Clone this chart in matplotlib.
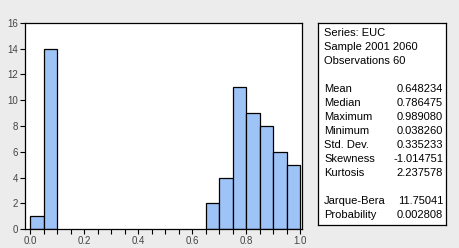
import matplotlib.pyplot as plt
import numpy as np
from matplotlib.ticker import MultipleLocator

# histogram bins (width 0.05) and counts
bin_edges = np.round(np.arange(0.0, 1.0001, 0.05), 2)
counts = [1, 14, 0, 0, 0, 0, 0, 0, 0, 0, 0, 0, 0, 2, 4, 11, 9, 8, 6, 5]

header = ['Series: EUC', 'Sample 2001 2060', 'Observations 60']
stat_names = ['Mean', 'Median', 'Maximum', 'Minimum', 'Std. Dev.',
              'Skewness', 'Kurtosis']
stat_values = ['0.648234', '0.786475', '0.989080', '0.038260', '0.335233',
               '-1.014751', '2.237578']
test_names = ['Jarque-Bera', 'Probability']
test_values = ['11.75041', '0.002808']

plt.rcParams['font.family'] = ['Liberation Sans', 'DejaVu Sans']
bg = '#ececec'

fig = plt.figure(figsize=(4.59, 2.48), dpi=100, facecolor=bg)
W, H = 459, 248
ax = fig.add_axes([25 / W, 1 - 229 / H, (302 - 25) / W, (229 - 23) / H])
ax.set_facecolor('white')

left = bin_edges[:-1]
for x0, c in zip(left, counts):
    if c > 0:
        ax.bar(x0, c, width=0.05, align='edge', color='#9ec3f7',
               edgecolor='black', linewidth=0.9)

ax.set_xlim(-0.019, 1.006)
ax.set_ylim(0, 16)
ax.xaxis.set_minor_locator(MultipleLocator(0.05))
ax.yaxis.set_major_locator(MultipleLocator(2))
ax.set_xticks(np.arange(0, 1.01, 0.2))
ax.set_xticklabels(['0.0', '0.2', '0.4', '0.6', '0.8', '1.0'])
ax.tick_params(axis='both', which='both', direction='out', length=3.5,
               width=0.8, labelsize=7, colors='black', labelcolor='#444444',
               pad=1.5)
for s in ax.spines.values():
    s.set_linewidth(0.9)

# statistics box
bax = fig.add_axes([318 / W, 1 - 225 / H, (446 - 318) / W, (225 - 23) / H])
bax.set_xlim(318, 446)
bax.set_ylim(225, 23)
bax.set_xticks([])
bax.set_yticks([])
bax.set_facecolor('white')
for s in bax.spines.values():
    s.set_linewidth(0.9)

fs = 8
y = 33
for t in header:
    bax.text(324, y, t, fontsize=fs, va='center', ha='left')
    y += 14
y += 14
for n, v in zip(stat_names, stat_values):
    bax.text(324, y, n, fontsize=fs, va='center', ha='left')
    bax.text(443, y, v, fontsize=fs, va='center', ha='right')
    y += 14
y += 14
for n, v in zip(test_names, test_values):
    bax.text(324, y, n, fontsize=fs, va='center', ha='left')
    bax.text(443, y, v, fontsize=fs, va='center', ha='right')
    y += 14

fig.savefig('out.png', dpi=100, facecolor=bg)
